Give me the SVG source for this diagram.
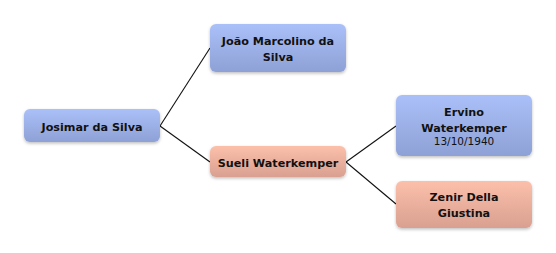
<svg xmlns="http://www.w3.org/2000/svg" width="556" height="253" viewBox="0 0 556 253">
<defs>
<linearGradient id="gb" x1="0" y1="0" x2="0" y2="1"><stop offset="0" stop-color="#aac0f8"/><stop offset="1" stop-color="#8ea1d6"/></linearGradient>
<linearGradient id="gs" x1="0" y1="0" x2="0" y2="1"><stop offset="0" stop-color="#fcc0aa"/><stop offset="1" stop-color="#d9a091"/></linearGradient>
<filter id="sh" x="-10%" y="-20%" width="120%" height="150%"><feDropShadow dx="0" dy="1.5" stdDeviation="1.5" flood-color="#000" flood-opacity="0.25"/></filter>
<style>
.b{fill:url(#gb);filter:url(#sh)}
.s{fill:url(#gs);filter:url(#sh)}
text{font-family:"DejaVu Sans","Liberation Sans",sans-serif;font-size:11.2px;font-weight:bold;fill:#111;text-anchor:middle}
.d{font-weight:normal;font-size:10.5px}
.c{stroke:#111;stroke-width:1.1;fill:none}
</style>
</defs>
<g id="connectors">
<path class="c" d="M160 126 L210 48"/>
<path class="c" d="M160 126 L210 162"/>
<path class="c" d="M346 162 L396 126"/>
<path class="c" d="M346 162 L396 204"/>
</g>
<g id="josimar"><rect class="b" x="24" y="109" width="136" height="33" rx="6"/><text x="92" y="131">Josimar da Silva</text></g>
<g id="joao"><rect class="b" x="210" y="24" width="136" height="48" rx="6"/><text x="278" y="45">João Marcolino da</text><text x="278" y="61">Silva</text></g>
<g id="sueli"><rect class="s" x="210" y="146" width="136" height="31" rx="6"/><text x="278" y="167">Sueli Waterkemper</text></g>
<g id="ervino"><rect class="b" x="396" y="95" width="136" height="61" rx="6"/><text x="464" y="116">Ervino</text><text x="464" y="132">Waterkemper</text><text class="d" x="464" y="145">13/10/1940</text></g>
<g id="zenir"><rect class="s" x="396" y="181" width="136" height="47" rx="6"/><text x="464" y="201">Zenir Della</text><text x="464" y="217">Giustina</text></g>
</svg>
